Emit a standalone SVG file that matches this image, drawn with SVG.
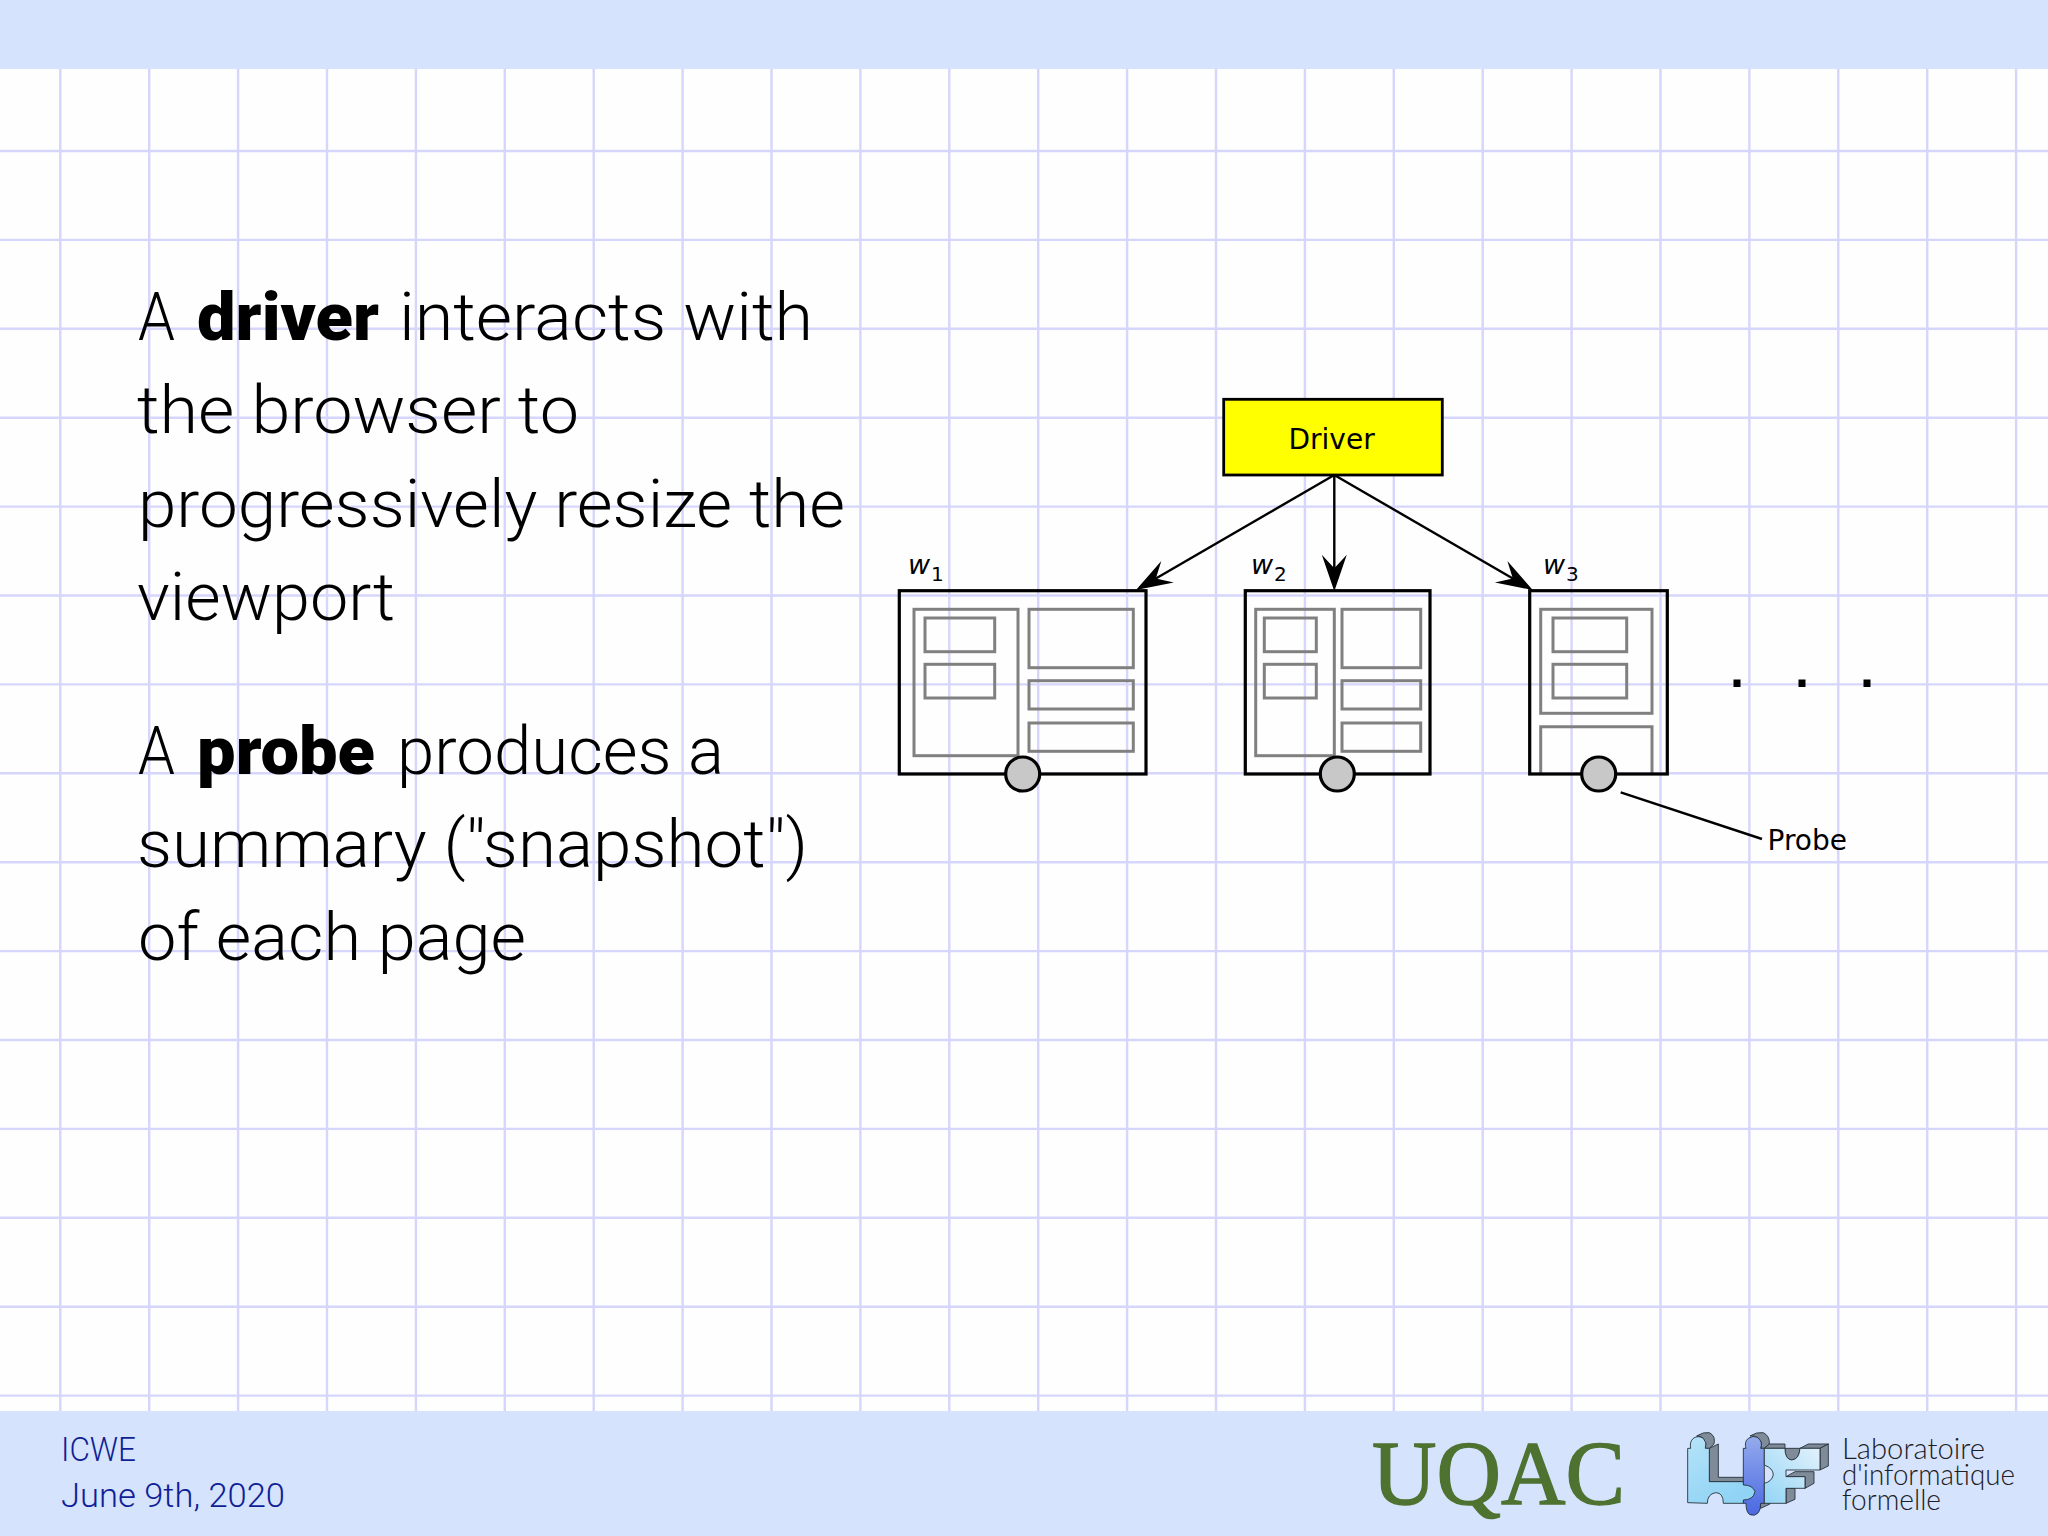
<svg xmlns="http://www.w3.org/2000/svg" width="2048" height="1536" viewBox="0 0 2048 1536">
<style>
.grid{fill:none;stroke:#d6d5fb;stroke-width:2.4}
.band{fill:#d5e3fd}
.body{font-family:Roboto,"Liberation Sans",sans-serif;font-size:66px;font-weight:300;fill:#000}
.b{font-weight:900}
.foot{font-family:Roboto,"Liberation Sans",sans-serif;font-size:33px;font-weight:300;fill:#101f96}
.dj{font-family:"DejaVu Sans",sans-serif;fill:#000;font-size:28px}
.wl{font-style:italic;font-size:27px}
.sub{font-size:20px;font-style:normal}
.page{fill:none;stroke:#000;stroke-width:3.2}
.panel{fill:none;stroke:#808080;stroke-width:3}
.probe{fill:#c8c8c8;stroke:#000;stroke-width:3.2}
.conn{fill:none;stroke:#000;stroke-width:2.4}
.lab{font-family:Lato,"Open Sans",sans-serif;font-weight:300;font-size:29px;fill:#1c2024}
.lg{stroke:#222c34;stroke-width:2.6;stroke-linejoin:round}
.dp{fill:#7f8b99}
</style>
<defs>
<marker id="arrow" markerUnits="userSpaceOnUse" markerWidth="40" markerHeight="26" refX="21" refY="13" orient="auto" overflow="visible">
<path d="M35,13 L-1.5,0.5 L12,13 L-1.5,25.5 Z" fill="#000"/>
</marker>
<linearGradient id="gl" x1="0" y1="0" x2="0.6" y2="1"><stop offset="0" stop-color="#b6e3f8"/><stop offset="1" stop-color="#8fd3f5"/></linearGradient>
<linearGradient id="gc" x1="0" y1="0" x2="0" y2="1"><stop offset="0" stop-color="#94abec"/><stop offset="1" stop-color="#4a68e2"/></linearGradient>
<linearGradient id="gf" x1="0" y1="1" x2="1" y2="0"><stop offset="0" stop-color="#93d5f6"/><stop offset="1" stop-color="#e2f1fb"/></linearGradient>
</defs>
<rect width="2048" height="1536" fill="#fefefe"/>
<path class="grid" d="M60.3 69V1411M149.2 69V1411M238.1 69V1411M327 69V1411M415.9 69V1411M504.8 69V1411M593.7 69V1411M682.6 69V1411M771.5 69V1411M860.4 69V1411M949.3 69V1411M1038.2 69V1411M1127.1 69V1411M1216 69V1411M1304.9 69V1411M1393.8 69V1411M1482.7 69V1411M1571.6 69V1411M1660.5 69V1411M1749.4 69V1411M1838.3 69V1411M1927.2 69V1411M2016.1 69V1411M0 151H2048M0 239.9H2048M0 328.8H2048M0 417.7H2048M0 506.6H2048M0 595.5H2048M0 684.4H2048M0 773.3H2048M0 862.2H2048M0 951.1H2048M0 1040H2048M0 1128.9H2048M0 1217.8H2048M0 1306.7H2048M0 1395.6H2048"/>
<rect class="band" x="0" y="0" width="2048" height="69"/>
<rect class="band" x="0" y="1411" width="2048" height="125"/>

<g id="body-text">
<text class="body" y="340"><tspan x="138" textLength="37" lengthAdjust="spacingAndGlyphs">A</tspan> <tspan class="b" x="197" textLength="182" lengthAdjust="spacingAndGlyphs">driver</tspan> <tspan x="399" textLength="414" lengthAdjust="spacingAndGlyphs">interacts with</tspan></text>
<text class="body" x="137" y="433" textLength="442" lengthAdjust="spacingAndGlyphs">the browser to</text>
<text class="body" x="138" y="527" textLength="707" lengthAdjust="spacingAndGlyphs">progressively resize the</text>
<text class="body" x="137" y="620" textLength="258" lengthAdjust="spacingAndGlyphs">viewport</text>
<text class="body" y="774"><tspan x="138" textLength="37" lengthAdjust="spacingAndGlyphs">A</tspan> <tspan class="b" x="197" textLength="178" lengthAdjust="spacingAndGlyphs">probe</tspan> <tspan x="397" textLength="327" lengthAdjust="spacingAndGlyphs">produces a</tspan></text>
<text class="body" x="137" y="867" textLength="671" lengthAdjust="spacingAndGlyphs">summary ("snapshot")</text>
<text class="body" x="138" y="960" textLength="388" lengthAdjust="spacingAndGlyphs">of each page</text>
</g>

<g id="connectors">
<path class="conn" d="M1334.3 475L1148.1 583" marker-end="url(#arrow)"/>
<path class="conn" d="M1334.3 475V577.3" marker-end="url(#arrow)"/>
<path class="conn" d="M1334.3 475L1520.6 583" marker-end="url(#arrow)"/>
<path class="conn" d="M1620.7 792.3L1762 839"/>
</g>

<g id="driver">
<rect x="1223.7" y="399.3" width="218.6" height="75.7" fill="#ffff00" stroke="#000" stroke-width="2.8"/>
<text class="dj" x="1288.5" y="448.5">Driver</text>
</g>

<g id="w1">
<text class="dj wl" x="908" y="574">w<tspan class="sub" dx="1" dy="7">1</tspan></text>
<rect class="page" x="899.3" y="590.7" width="246.7" height="183.3"/>
<rect class="panel" x="914" y="609.3" width="104" height="146.4"/>
<rect class="panel" x="925" y="618" width="69.7" height="33.7"/>
<rect class="panel" x="925" y="664.3" width="69.7" height="33.7"/>
<rect class="panel" x="1029" y="609.3" width="104.3" height="58.4"/>
<rect class="panel" x="1029" y="680.7" width="104.3" height="28.3"/>
<rect class="panel" x="1029" y="723" width="104.3" height="28.3"/>
<circle class="probe" cx="1022.7" cy="774" r="17"/>
</g>

<g id="w2">
<text class="dj wl" x="1251" y="574">w<tspan class="sub" dx="1" dy="7">2</tspan></text>
<rect class="page" x="1245.3" y="590.7" width="184.7" height="183.3"/>
<rect class="panel" x="1255.7" y="609.3" width="78.6" height="146.4"/>
<rect class="panel" x="1264.3" y="618" width="52" height="33.7"/>
<rect class="panel" x="1264.3" y="664.3" width="52" height="33.7"/>
<rect class="panel" x="1342" y="609.3" width="78.7" height="58.4"/>
<rect class="panel" x="1342" y="680.7" width="78.7" height="28.3"/>
<rect class="panel" x="1342" y="723" width="78.7" height="28.3"/>
<circle class="probe" cx="1337.3" cy="774" r="17"/>
</g>

<g id="w3">
<text class="dj wl" x="1543" y="574">w<tspan class="sub" dx="1" dy="7">3</tspan></text>
<rect class="panel" x="1540.7" y="609.3" width="111.3" height="104"/>
<rect class="panel" x="1553" y="618" width="73.7" height="33.7"/>
<rect class="panel" x="1553" y="664.3" width="73.7" height="33.7"/>
<path class="panel" d="M1540.7 774V726.7H1652V774"/>
<rect class="page" x="1529.7" y="590.7" width="137.6" height="183.3"/>
<circle class="probe" cx="1598.7" cy="774" r="17"/>
</g>

<g id="more" fill="#000">
<rect x="1733.5" y="679.5" width="7" height="7.5"/>
<rect x="1798.5" y="679.5" width="7" height="7.5"/>
<rect x="1863.5" y="679.5" width="7" height="7.5"/>
</g>

<g id="probe-label">
<text class="dj" x="1767.5" y="850">Probe</text>
</g>

<g id="footer">
<text class="foot" x="61" y="1461" textLength="75" lengthAdjust="spacingAndGlyphs">ICWE</text>
<text class="foot" x="61" y="1507" textLength="224" lengthAdjust="spacingAndGlyphs">June 9th, 2020</text>
</g>

<g id="uqac">
<text x="1372" y="1504" font-family="Liberation Serif, serif" font-size="92" fill="#4e7230" stroke="#4e7230" stroke-width="1.4" textLength="253" lengthAdjust="spacingAndGlyphs">UQAC</text>
</g>

<g id="lif">
<g transform="translate(1670 1420) scale(0.3333)">
<g class="lg dp">
<path d="M118,85L145,72V172H225V185H118Z"/>
<path d="M80,48Q100,35 118,38Q138,48 132,72L118,85H106Q112,68 100,55Q92,48 80,48Z"/>
<path d="M240,48Q260,35 280,38Q300,48 298,72L283,85H272Q280,65 262,52Q252,46 240,48Z"/>
<path d="M272,265L300,252V240H270Z"/>
<path d="M283,85L298,72H345V85Z"/>
<path d="M390,85L415,72H475L450,85Z"/>
<path d="M450,85L475,72V138L450,150Z"/>
<path d="M345,85Q345,118 365,120Q388,118 390,85H345Z"/>
<path d="M348,170L375,155H432V190L405,205V170Z"/>
<path d="M348,250L375,238V205H348Z"/>
</g>
<path class="lg" fill="url(#gc)" d="M220,85H228Q222,65 235,55Q250,45 262,52Q280,65 272,85H283V250H272Q272,270 265,278Q255,290 240,284Q228,278 228,250L220,250Z"/>
<path class="lg" fill="url(#gl)" d="M53,248V85H62Q58,65 70,55Q85,45 100,55Q112,68 106,85H118V185H220V195Q248,195 255,215Q250,240 220,240V250H160Q160,218 137,218Q112,222 112,250Z"/>
<path class="lg" fill="url(#gf)" d="M283,85H345Q345,118 365,120Q388,118 390,85H450V150H348V170H405V205H348V250H283V190Q305,185 310,165Q310,145 283,135Z"/>
</g>
<text class="lab" x="1842" y="1459" textLength="143" lengthAdjust="spacingAndGlyphs">Laboratoire</text>
<text class="lab" x="1842" y="1485" textLength="173" lengthAdjust="spacingAndGlyphs">d'informatique</text>
<text class="lab" x="1842" y="1510" textLength="99" lengthAdjust="spacingAndGlyphs">formelle</text>
</g>
</svg>
